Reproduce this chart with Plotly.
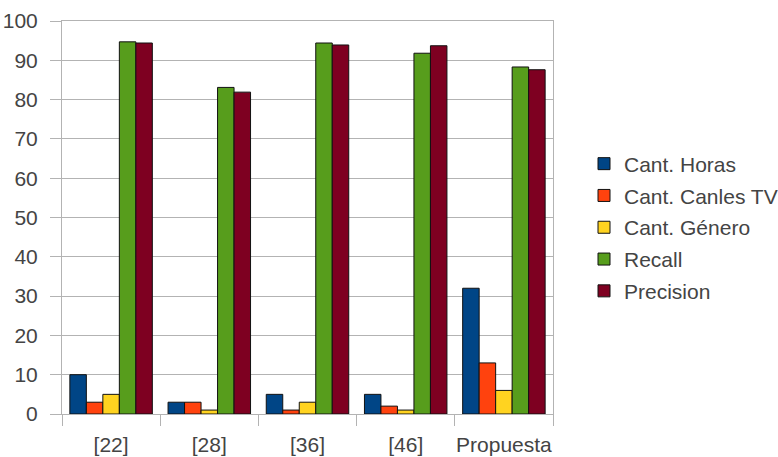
import plotly.graph_objects as go

categories = ["[22]", "[28]", "[36]", "[46]", "Propuesta"]
series_names = ["Cant. Horas", "Cant. Canles TV", "Cant. Género", "Recall", "Precision"]
cant_horas = [10, 3, 5, 5, 32]
cant_canles = [3, 3, 1, 2, 13]
cant_genero = [5, 1, 3, 1, 6]
recall = [94.7, 83.1, 94.4, 91.8, 88.3]
precision = [94.4, 81.9, 93.9, 93.7, 87.6]
colors = ["#004586", "#ff420e", "#ffd320", "#579d1c", "#7e0021"]
y_ticks = list(range(0, 101, 10))

series_values = [cant_horas, cant_canles, cant_genero, recall, precision]

fig = go.Figure()
for name, vals, col in zip(series_names, series_values, colors):
    fig.add_trace(go.Bar(
        x=categories, y=vals, name=name, legendgroup=name,
        marker=dict(color=col, line=dict(color="#111111", width=1)),
    ))

font_family = "Liberation Sans, Arial, sans-serif"
fig.update_layout(
    width=778, height=457,
    margin=dict(l=62, r=225, t=21, b=43),
    paper_bgcolor="white", plot_bgcolor="white",
    barmode="group", bargap=0.16, bargroupgap=0,
    font=dict(family=font_family, size=21, color="#444444"),
    showlegend=True,
    legend=dict(
        xref="container", yref="container",
        x=584 / 778, xanchor="left",
        y=1 - 227.5 / 457, yanchor="middle",
        font=dict(size=21, color="#444444"),
        bgcolor="rgba(0,0,0,0)", borderwidth=0,
        tracegroupgap=1.5,
    ),
)
fig.update_yaxes(
    range=[0, 100], tickvals=y_ticks, automargin=False,
    showgrid=True, gridcolor="#b3b3b3", gridwidth=1,
    showline=True, linecolor="#b3b3b3", linewidth=1, mirror=True,
    ticks="outside", ticklen=11, tickcolor="#b3b3b3",
    ticklabelstandoff=8, zeroline=False,
    tickfont=dict(size=21, color="#444444"),
)
fig.update_xaxes(
    showgrid=False, automargin=False, tickangle=0,
    showline=True, linecolor="#b3b3b3", linewidth=1, mirror=True,
    ticks="outside", ticklen=11, tickcolor="#b3b3b3", tickson="boundaries",
    ticklabelstandoff=12,
    tickfont=dict(size=21, color="#444444"),
)

fig.write_html("out.html")
